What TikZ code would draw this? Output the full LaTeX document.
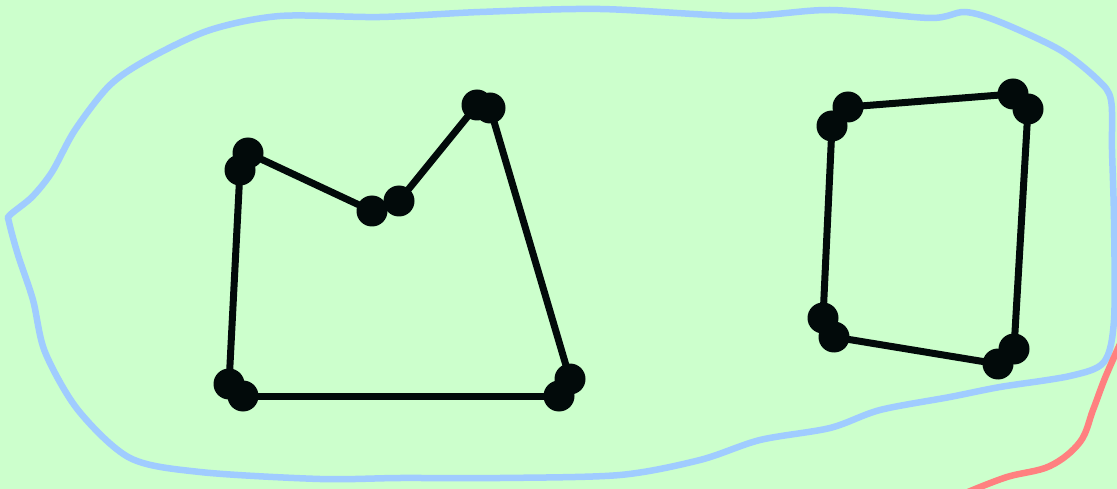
\documentclass[tikz,border=0pt]{standalone}
\begin{document}
\begin{tikzpicture}[x=1pt,y=-1pt,
  dot/.style={circle,fill=ink,inner sep=0pt,minimum size=31pt},
  edge/.style={draw=ink,line width=7pt},
  loop/.style={draw=loopblue,line width=6.5pt,line join=round},
  redline/.style={draw=redc,line width=6.5pt}]
\definecolor{bg}{HTML}{CCFFCC}
\definecolor{ink}{HTML}{020A0A}
\definecolor{loopblue}{HTML}{A0CCFF}
\definecolor{redc}{HTML}{FF8080}
\fill[bg] (0,0) rectangle (1117,489);
\useasboundingbox (0,0) rectangle (1117,489);
% blue loop
\draw[loop] plot[smooth cycle,tension=0.5] coordinates {
 (10,215) (32,197) (52,172) (75,130) (110,85) (150,58) (210,30) (280,16)
 (380,17) (480,12) (600,9) (740,16) (830,10) (930,18) (965,12) (1000,22)
 (1060,50) (1098,80) (1111,100) (1112,150) (1114,220) (1114,320) (1104,362)
 (1070,376) (1000,387) (950,397) (880,410) (830,428) (760,440) (700,460)
 (620,475) (500,478) (400,478) (320,479) (200,472) (130,458) (78,410)
 (45,352) (33,300) (18,255) (9,222)};
% red curve
\draw[redline] plot[smooth,tension=0.6] coordinates {
 (968,492) (1007,477) (1050,466) (1080,442) (1093,410) (1105,378) (1120,344)};
% left polygon
\node[dot] (a1) at (248,153) {};
\node[dot] (a2) at (372,211) {};
\node[dot] (a3) at (399,201) {};
\node[dot] (a4) at (477,105) {};
\node[dot] (a5) at (490,108) {};
\node[dot] (a6) at (570,379) {};
\node[dot] (a7) at (559,396) {};
\node[dot] (a8) at (243,396) {};
\node[dot] (a9) at (229,384) {};
\node[dot] (a10) at (240,170) {};
\draw[edge] (a1.center) -- (a2.center);
\draw[edge] (a3.center) -- (a4.center);
\draw[edge] (a5.center) -- (a6.center);
\draw[edge] (a7.center) -- (a8.center);
\draw[edge] (a9.center) -- (a10.center);
% right polygon
\node[dot] (b1) at (848,107) {};
\node[dot] (b2) at (1013,94) {};
\node[dot] (b3) at (1028,109) {};
\node[dot] (b4) at (1014,349) {};
\node[dot] (b5) at (998,364) {};
\node[dot] (b6) at (834,337) {};
\node[dot] (b7) at (823,318) {};
\node[dot] (b8) at (832,126) {};
\draw[edge] (b1.center) -- (b2.center);
\draw[edge] (b3.center) -- (b4.center);
\draw[edge] (b5.center) -- (b6.center);
\draw[edge] (b7.center) -- (b8.center);
\end{tikzpicture}
\end{document}
